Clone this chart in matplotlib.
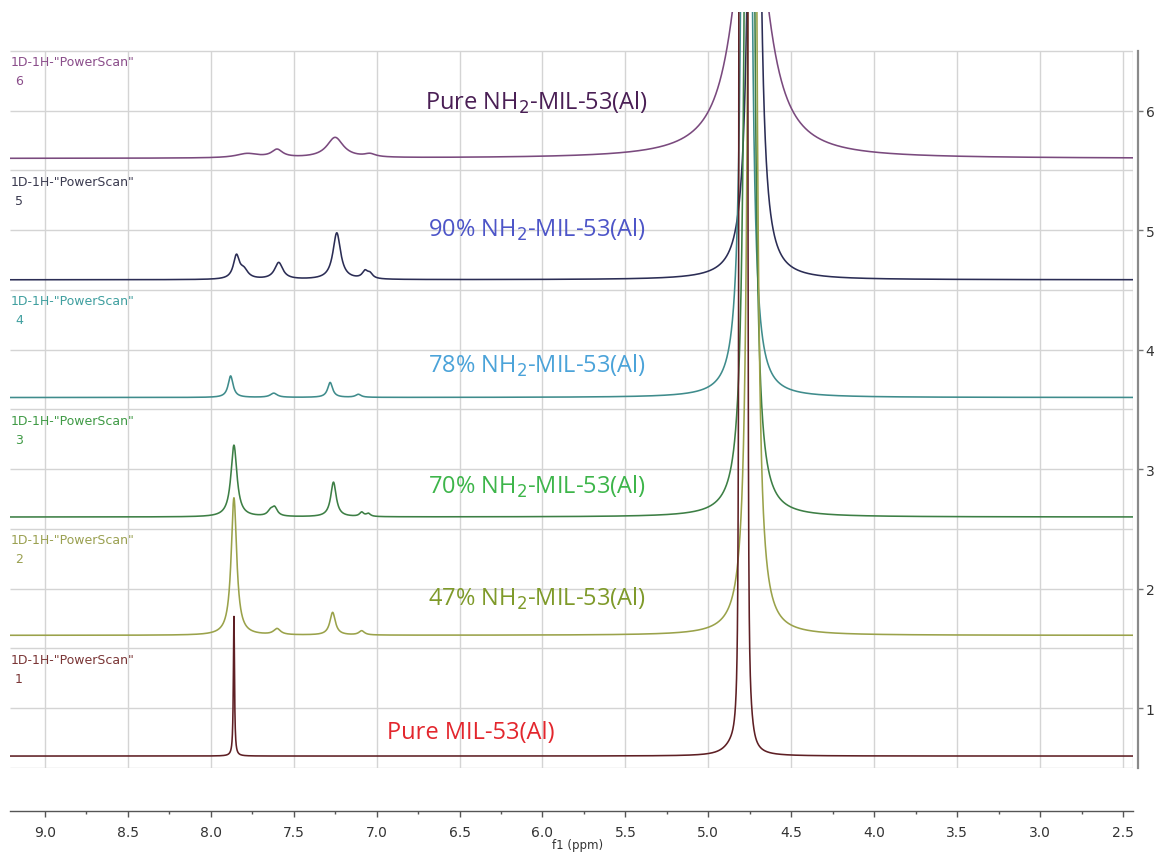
#!/usr/bin/env python3
"""
Stacked 1H NMR spectra of MIL-53(Al) / NH2-MIL-53(Al) mixtures.

Each trace is rebuilt as a sum of Lorentzian lines (centre, amplitude,
half-width) sitting on its own vertical offset, then stacked in one
panel with the ppm axis reversed as usual for NMR.
"""

import numpy as np
import matplotlib
matplotlib.use('Agg')
import matplotlib.pyplot as plt

# ============================================================
# Peak tables (ppm, amplitude, half-width) for each trace
# ============================================================
# 1: Pure MIL-53(Al) -- water signal is a flat-topped cluster
PEAKS_1 = [7.86, 4.812, 4.800, 4.788, 4.776, 4.766, 4.745, 4.86]
AMPS_1 = [1.17, 35.0, 35.0, 35.0, 35.0, 35.0, 0.08, 0.05]
WIDTHS_1 = [0.004, 0.0018, 0.0018, 0.0018, 0.0018, 0.0018, 0.02, 0.06]

# 2: 47% NH2-MIL-53(Al)
PEAKS_2 = [7.86, 7.60, 7.265, 7.09, 4.735]
AMPS_2 = [1.15, 0.05, 0.19, 0.035, 33.0]
WIDTHS_2 = [0.02, 0.025, 0.02, 0.02, 0.012]

# 3: 70% NH2-MIL-53(Al)
PEAKS_3 = [7.86, 7.64, 7.615, 7.26, 7.09, 7.05, 4.752]
AMPS_3 = [0.60, 0.04, 0.07, 0.29, 0.035, 0.025, 31.0]
WIDTHS_3 = [0.022, 0.02, 0.02, 0.02, 0.015, 0.015, 0.013]

# 4: 78% NH2-MIL-53(Al)
PEAKS_4 = [7.88, 7.62, 7.28, 7.11, 4.77]
AMPS_4 = [0.18, 0.035, 0.125, 0.025, 33.0]
WIDTHS_4 = [0.018, 0.025, 0.018, 0.02, 0.012]

# 5: 90% NH2-MIL-53(Al)
PEAKS_5 = [7.845, 7.80, 7.59, 7.24, 7.07, 7.04, 4.723]
AMPS_5 = [0.19, 0.07, 0.14, 0.39, 0.06, 0.04, 14.0]
WIDTHS_5 = [0.022, 0.03, 0.03, 0.028, 0.02, 0.02, 0.02]

# 6: Pure NH2-MIL-53(Al)
PEAKS_6 = [7.78, 7.60, 7.25, 7.04, 4.745]
AMPS_6 = [0.035, 0.065, 0.17, 0.025, 2.4]
WIDTHS_6 = [0.08, 0.04, 0.06, 0.04, 0.113]

# Vertical offset of each trace (stack position)
BASELINES = [0.60, 1.61, 2.60, 3.60, 4.585, 5.60]
TRACE_IDS = ['1', '2', '3', '4', '5', '6']
SAMPLE_LABELS = [
    'Pure MIL-53(Al)',
    '47% NH$_2$-MIL-53(Al)',
    '70% NH$_2$-MIL-53(Al)',
    '78% NH$_2$-MIL-53(Al)',
    '90% NH$_2$-MIL-53(Al)',
    'Pure NH$_2$-MIL-53(Al)',
]

LINE_COLORS = ['#5e1f24', '#9aa24a', '#3d7f45', '#3f8c8c', '#2b2d55', '#7a4a7e']
LABEL_COLORS = ['#e3262d', '#7f9a2a', '#3db54a', '#4ba3d9', '#4d55c8', '#4a1f55']
TAG_COLORS = ['#7a3535', '#9aa050', '#3f9a45', '#3f9f9f', '#3a3a4f', '#8a4d8a']

XMIN, XMAX = 9.21, 2.44
YMIN, YMAX = 0.5, 6.826


def lorentz_sum(ppm, centers, amps, widths):
    """Sum of Lorentzian lines evaluated on the ppm grid."""
    y = np.zeros_like(ppm)
    for c, a, w in zip(centers, amps, widths):
        y += a * w**2 / ((ppm - c)**2 + w**2)
    return y


def main():
    plt.rcParams.update({'font.family': 'DejaVu Sans'})

    ppm = np.linspace(XMIN, XMAX, 12000)
    tables = [
        (PEAKS_1, AMPS_1, WIDTHS_1),
        (PEAKS_2, AMPS_2, WIDTHS_2),
        (PEAKS_3, AMPS_3, WIDTHS_3),
        (PEAKS_4, AMPS_4, WIDTHS_4),
        (PEAKS_5, AMPS_5, WIDTHS_5),
        (PEAKS_6, AMPS_6, WIDTHS_6),
    ]

    W, H = 1155, 854
    fig = plt.figure(figsize=(W / 100, H / 100), dpi=100)
    ax = fig.add_axes([10 / W, (H - 769) / H, (1133 - 10) / W, (769 - 13) / H])
    ax.set_xlim(XMIN, XMAX)
    ax.set_ylim(YMIN, YMAX)

    # grid box: 0.5 ppm columns, 0.5 unit rows
    grid_kw = dict(color='#d4d4d4', linewidth=1.0, zorder=0)
    ax.hlines(np.arange(0.5, 6.51, 0.5), XMIN, XMAX, **grid_kw)
    ax.vlines(np.arange(2.5, 9.01, 0.5), 0.5, 6.5, **grid_kw)
    ax.vlines([XMAX], 0.5, 6.5, **grid_kw)

    # traces, top one first so the lower ones sit on top
    for i in reversed(range(6)):
        centers, amps, widths = tables[i]
        y = BASELINES[i] + lorentz_sum(ppm, centers, amps, widths)
        ax.plot(ppm, y, color=LINE_COLORS[i], linewidth=1.15, zorder=2 + (6 - i))

        k = i + 1
        ax.text(9.205, k + 0.41, '1D-1H-"PowerScan"', color=TAG_COLORS[i],
                fontsize=9, ha='left', va='center')
        ax.text(9.18, k + 0.25, TRACE_IDS[i], color=TAG_COLORS[i],
                fontsize=9, ha='left', va='center')

    # sample labels
    label_x = [6.43, 6.036, 6.036, 6.036, 6.036, 6.036]
    label_y = [0.80, 1.92, 2.86, 3.87, 5.01, 6.075]
    for i in range(6):
        ax.text(label_x[i], label_y[i], SAMPLE_LABELS[i], color=LABEL_COLORS[i],
                fontsize=17, family='Open Sans', ha='center', va='center',
                zorder=10)

    # axes styling (spine offsets and tick sizes are in points)
    for side in ('top', 'left'):
        ax.spines[side].set_visible(False)
    ax.spines['right'].set_position(('outward', 3.6))
    ax.spines['right'].set_bounds(0.5, 6.5)
    ax.spines['right'].set_color('#8a8a8a')
    ax.spines['right'].set_linewidth(1.6)
    ax.spines['bottom'].set_position(('outward', 31))
    ax.spines['bottom'].set_color('#555555')
    ax.spines['bottom'].set_linewidth(1.0)

    ax.yaxis.tick_right()
    ax.set_yticks([1, 2, 3, 4, 5, 6])
    ax.tick_params(axis='y', direction='out', length=3.5, width=1,
                   colors='#777777', labelcolor='#333333', labelsize=10, pad=2)

    ax.set_xticks(np.arange(2.5, 9.01, 0.5))
    ax.set_xticks(np.arange(2.75, 9.01, 0.5), minor=True)
    ax.set_xticklabels([f'{v:.1f}' for v in np.arange(2.5, 9.01, 0.5)])
    ax.tick_params(axis='x', which='major', direction='out', length=4, width=1,
                   colors='#555555', labelcolor='#333333', labelsize=10, pad=6)
    ax.tick_params(axis='x', which='minor', direction='out', length=2.5, width=1,
                   colors='#555555')

    fig.text(578 / W, 1 - 846 / H, 'f1 (ppm)', fontsize=8.5, color='#333333',
             ha='center', va='center')

    fig.savefig('out.png', dpi=100)
    plt.close(fig)


if __name__ == '__main__':
    main()
